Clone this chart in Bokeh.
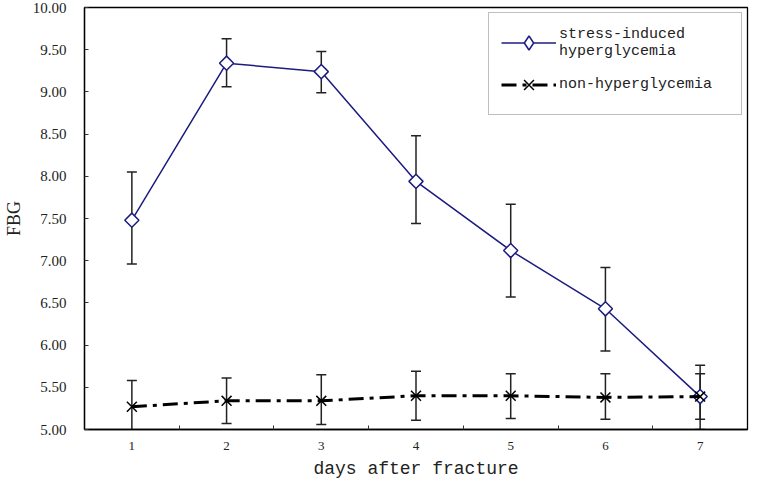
from bokeh.plotting import figure
from bokeh.models import (Range1d, FixedTicker, Whisker, TeeHead, ColumnDataSource,
                          Legend, LegendItem, PrintfTickFormatter)
from bokeh.embed import file_html
from bokeh.resources import INLINE

# ---- data ----
days = [1, 2, 3, 4, 5, 6, 7]
shg_mean = [7.48, 9.34, 9.24, 7.94, 7.12, 6.43, 5.39]
shg_upper = [8.05, 9.63, 9.48, 8.48, 7.67, 6.92, 5.76]
shg_lower = [6.96, 9.06, 8.99, 7.44, 6.57, 5.93, 5.00]

nh_mean = [5.27, 5.34, 5.34, 5.40, 5.40, 5.38, 5.39]
nh_upper = [5.58, 5.61, 5.65, 5.69, 5.66, 5.66, 5.66]
nh_lower = [4.96, 5.07, 5.06, 5.11, 5.13, 5.12, 5.12]

y_ticks = [5.0, 5.5, 6.0, 6.5, 7.0, 7.5, 8.0, 8.5, 9.0, 9.5, 10.0]
x_label = "days after fracture"
y_label = "FBG"
series_names = ["stress-induced\nhyperglycemia", "non-hyperglycemia"]

NAVY = "#1c1c80"

p = figure(width=749, height=481, output_backend="svg", toolbar_location=None,
           x_range=Range1d(0.5, 7.5), y_range=Range1d(5, 10),
           min_border_left=75, min_border_right=2, min_border_top=7, min_border_bottom=0)

p.xgrid.visible = False
p.ygrid.visible = False
p.outline_line_color = "black"
p.outline_line_width = 1.3
p.outline_line_alpha = 1.0
p.background_fill_color = "white"
p.border_fill_color = "white"

# axes
p.xaxis.ticker = FixedTicker(ticks=days, minor_ticks=[d + 0.5 for d in days[:-1]])
p.yaxis.ticker = FixedTicker(ticks=y_ticks)
p.yaxis.formatter = PrintfTickFormatter(format="%.2f")

for ax in (p.xaxis[0], p.yaxis[0]):
    ax.axis_line_color = "black"
    ax.axis_line_width = 1.3
    ax.major_label_text_font = "Liberation Serif"
    ax.major_label_text_color = "#222222"
    ax.axis_label_text_font = "Liberation Serif"
    ax.axis_label_text_font_style = "normal"
    ax.axis_label_text_color = "#222222"
    ax.major_tick_line_color = "#333333"
    ax.minor_tick_line_color = "#333333"

p.yaxis.major_tick_in = 4
p.yaxis.major_tick_out = 0
p.yaxis.minor_tick_in = 0
p.yaxis.minor_tick_out = 0
p.yaxis.major_label_text_font_size = "15px"
p.yaxis.major_label_standoff = 18
p.yaxis.axis_label = y_label
p.yaxis.axis_label_text_font_size = "18px"
p.yaxis.axis_label_standoff = 6

p.xaxis.major_tick_in = 0
p.xaxis.major_tick_out = 0
p.xaxis.minor_tick_in = 4
p.xaxis.minor_tick_out = 0
p.xaxis.major_label_text_font_size = "13px"
p.xaxis.major_label_standoff = 12
p.xaxis.axis_label = x_label
p.xaxis.axis_label_text_font = "Liberation Mono"
p.xaxis.axis_label_text_font_size = "18px"
p.xaxis.axis_label_standoff = 6

# error bars
for up, lo in ((shg_upper, shg_lower), (nh_upper, nh_lower)):
    src = ColumnDataSource(dict(x=days, upper=up, lower=lo))
    w = Whisker(base="x", upper="upper", lower="lower", source=src, dimension="height",
                line_color="#222222", line_width=1.5,
                upper_head=TeeHead(size=10, line_color="#222222", line_width=1.5),
                lower_head=TeeHead(size=10, line_color="#222222", line_width=1.5))
    p.add_layout(w)

# series
l1 = p.line(days, shg_mean, line_color=NAVY, line_width=1.5)
# legend-only marker (legend glyphs are never rotated); size 0 so it stays hidden in the plot
m1_leg = p.scatter(days, shg_mean, marker="diamond", size=0,
                   fill_color="white", line_color=NAVY, line_width=1.5)
m1 = p.scatter(days, shg_mean, marker="square", angle=0.785398, size=10,
               fill_color="white", line_color=NAVY, line_width=1.5)

l2 = p.line(days, nh_mean, line_color="black", line_width=3, line_dash="15 6 4 6")
m2 = p.scatter(days, nh_mean, marker="x", size=14, line_color="black", line_width=1.5)

legend = Legend(items=[LegendItem(label=series_names[0], renderers=[l1, m1_leg]),
                       LegendItem(label=series_names[1], renderers=[l2, m2])],
                location="top_right", margin=5, padding=12, spacing=7,
                glyph_width=55, glyph_height=35, label_standoff=3,
                label_width=170, label_height=20,
                label_text_font="Liberation Mono", label_text_font_size="15px",
                label_text_color="#222222",
                border_line_color="#808080", border_line_width=1,
                background_fill_color="white", background_fill_alpha=1.0)
p.add_layout(legend)

open("out.html", "w").write(file_html(p, INLINE))
